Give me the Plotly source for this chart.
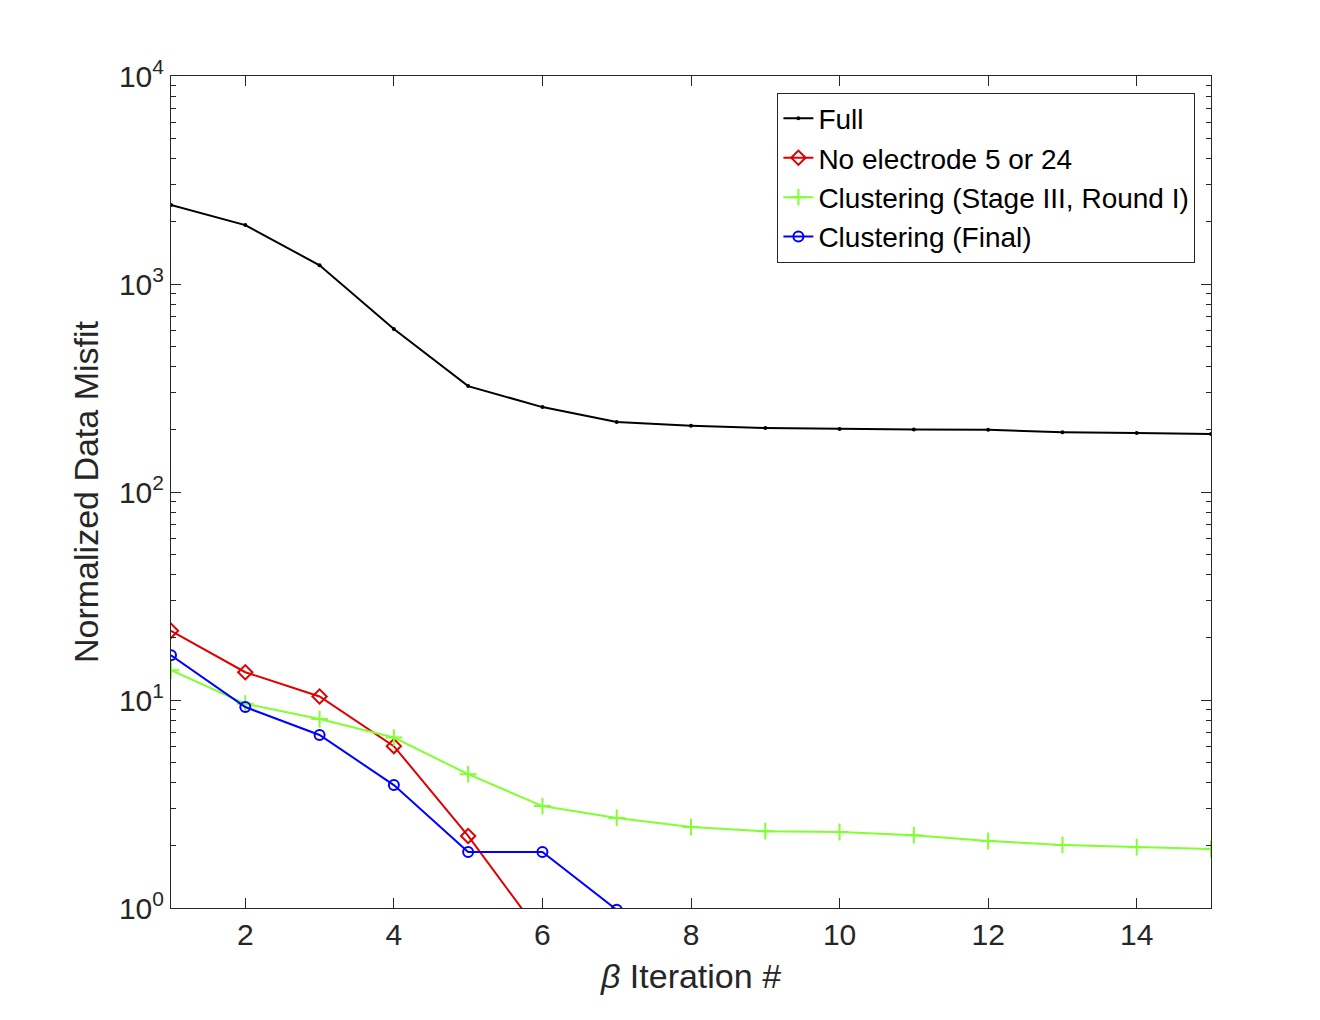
import plotly.graph_objects as go

iters = list(range(1, 16))
full = [2400, 1920, 1230, 608, 323, 256, 217, 208, 203, 201, 200, 199, 194, 192, 190]
no_elec_x = [1, 2, 3, 4, 5, 6]
no_elec = [21.5, 13.6, 10.4, 6.0, 2.22, 0.73]
clust_s3 = [13.9, 9.6, 8.1, 6.6, 4.4, 3.09, 2.71, 2.45, 2.34, 2.32, 2.24, 2.10, 2.01, 1.96, 1.92]
final_x = [1, 2, 3, 4, 5, 6, 7]
clust_final = [16.4, 9.25, 6.79, 3.9, 1.86, 1.86, 0.98]

font = "Liberation Sans, Arial, sans-serif"

fig = go.Figure()
fig.add_trace(go.Scatter(x=iters, y=full, mode="lines+markers", name="Full",
                         line=dict(color="black", width=2),
                         marker=dict(symbol="circle", size=4, color="black")))
fig.add_trace(go.Scatter(x=no_elec_x, y=no_elec, mode="lines+markers", name="No electrode 5 or 24",
                         line=dict(color="#e00000", width=2),
                         marker=dict(symbol="diamond-open", size=11, color="#e00000",
                                     line=dict(width=2))))
fig.add_trace(go.Scatter(x=iters, y=clust_s3, mode="lines+markers",
                         name="Clustering (Stage III, Round I)",
                         line=dict(color="#80ff33", width=2),
                         marker=dict(symbol="cross-thin-open", size=12, color="#80ff33",
                                     line=dict(width=2, color="#80ff33"))))
fig.add_trace(go.Scatter(x=final_x, y=clust_final, mode="lines+markers", name="Clustering (Final)",
                         line=dict(color="#0000ff", width=2),
                         marker=dict(symbol="circle-open", size=10, color="#0000ff",
                                     line=dict(width=2))))

axis_common = dict(showline=True, linecolor="#262626", linewidth=1, mirror="allticks",
                   ticks="inside", ticklen=10, tickcolor="#262626", showgrid=False,
                   zeroline=False, tickfont=dict(size=30, color="#262626", family=font))

fig.update_layout(
    width=1320, height=1020,
    paper_bgcolor="white", plot_bgcolor="white",
    margin=dict(l=163, r=117, t=68, b=120),
    font=dict(family=font, color="#262626"),
    xaxis=dict(range=[1, 15], tickvals=[2, 4, 6, 8, 10, 12, 14],
               title=dict(text="<i>β</i> Iteration #", font=dict(size=34), standoff=14),
               **axis_common),
    yaxis=dict(type="log", range=[0, 4], tickvals=[1, 10, 100, 1000, 10000],
               ticktext=["10<sup>0</sup>", "10<sup>1</sup>", "10<sup>2</sup>",
                         "10<sup>3</sup>", "10<sup>4</sup>"],
               minor=dict(ticks="inside", ticklen=5, tickcolor="#262626", showgrid=False,
                          dtick="D1"),
               title=dict(text="Normalized Data Misfit", font=dict(size=34), standoff=10),
               **axis_common),
    legend=dict(x=0.985, y=0.98, xanchor="right", yanchor="top",
                bgcolor="white", bordercolor="#262626", borderwidth=1,
                font=dict(size=28, color="black"), tracegroupgap=0, itemwidth=30),
)

fig.write_html("out.html")
